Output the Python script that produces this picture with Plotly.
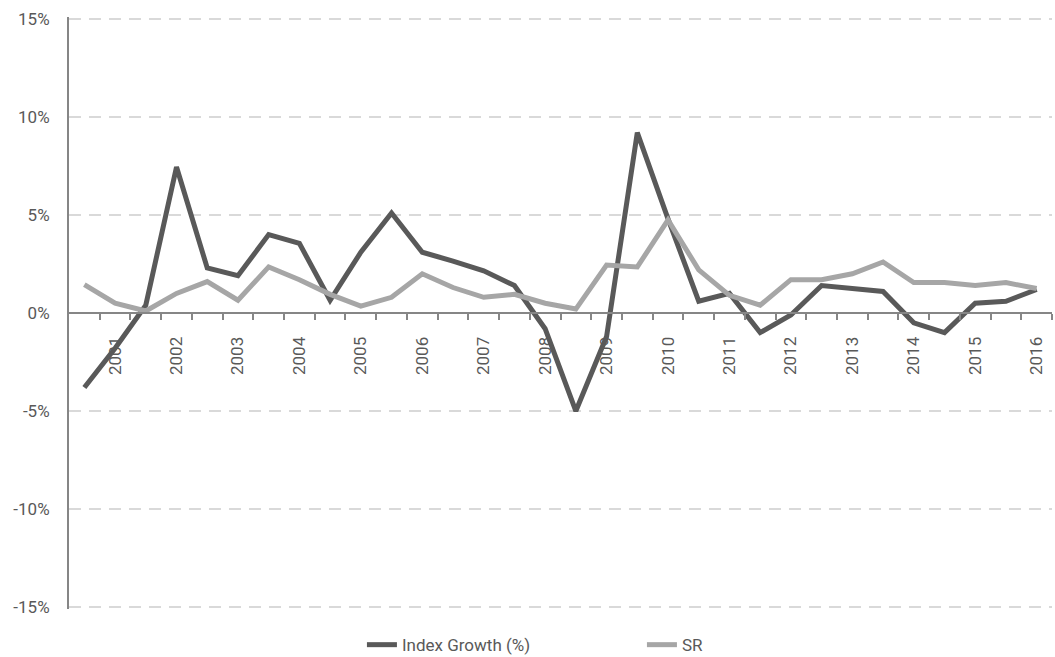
import plotly.graph_objects as go

# Half-yearly observations, 2000 H2 .. 2016 H1; only every second period carries a year label
periods = [f"{y} H{h}" for y in range(2000, 2017) for h in (1, 2)][1:33]
year_labels = [str(y) for y in range(2001, 2017)]

index_growth = [-3.8, -1.8, 0.4, 7.45, 2.3, 1.9, 4.0, 3.55, 0.65, 3.1,
                5.1, 3.1, 2.65, 2.15, 1.4, -0.8, -5.0, -1.2, 9.2, 4.8,
                0.6, 1.0, -1.0, -0.1, 1.4, 1.25, 1.1, -0.5, -1.0, 0.5,
                0.6, 1.2]
sr = [1.45, 0.5, 0.1, 1.0, 1.6, 0.65, 2.35, 1.7, 0.95, 0.35,
      0.8, 2.0, 1.3, 0.8, 0.95, 0.5, 0.2, 2.45, 2.35, 4.75,
      2.2, 0.9, 0.4, 1.7, 1.7, 2.0, 2.6, 1.55, 1.55, 1.4,
      1.55, 1.25]

y_ticks = [15, 10, 5, 0, -5, -10, -15]
y_labels = ["15%", "10%", "5%", "0%", "-5%", "-10%", "-15%"]

FONT = "Roboto, Liberation Sans Narrow, sans-serif"
TEXT = "#595959"
AXIS = "#868686"

x = list(range(len(periods)))

fig = go.Figure()
fig.add_trace(go.Scatter(x=x, y=index_growth, mode="lines", name="Index Growth (%)",
                         line=dict(color="#595959", width=5), customdata=periods,
                         hovertemplate="%{customdata}: %{y:.1f}%<extra></extra>"))
fig.add_trace(go.Scatter(x=x, y=sr, mode="lines", name="SR",
                         line=dict(color="#a6a6a6", width=5), customdata=periods,
                         hovertemplate="%{customdata}: %{y:.1f}%<extra></extra>"))

fig.update_layout(
    width=1055, height=657,
    margin=dict(l=69, r=3, t=17, b=48, autoexpand=False),
    paper_bgcolor="white", plot_bgcolor="white",
    font=dict(family=FONT, size=17, color=TEXT),
    showlegend=True,
    legend=dict(orientation="h", x=0.298, xanchor="left", y=-0.061, yanchor="middle",
                font=dict(family=FONT, size=17, color=TEXT),
                entrywidth=235, tracegroupgap=0),
    xaxis=dict(
        range=[-0.5, len(periods) - 0.5],
        anchor="free", position=0.5,
        showline=True, linecolor=AXIS, linewidth=2,
        showgrid=False, zeroline=False,
        tickmode="array", tickvals=x[1::2], ticktext=year_labels,
        tickangle=-90, ticks="outside", ticklen=6, tickcolor="rgba(0,0,0,0)",
        ticklabelstandoff=10,
        tickfont=dict(family=FONT, size=17, color=TEXT),
        minor=dict(tickmode="array", tickvals=[i + 0.5 for i in x],
                   ticks="outside", ticklen=6, tickwidth=2, tickcolor=AXIS,
                   showgrid=False),
    ),
    yaxis=dict(
        range=[-15.1, 15.1],
        showline=True, linecolor=AXIS, linewidth=2,
        zeroline=False,
        showgrid=True, gridcolor="#d9d9d9", gridwidth=2, griddash="12px,8px",
        tickmode="array", tickvals=y_ticks, ticktext=y_labels,
        ticks="", ticklabelstandoff=14,
        tickfont=dict(family=FONT, size=17, color=TEXT),
    ),
)

fig.write_html("out.html")
